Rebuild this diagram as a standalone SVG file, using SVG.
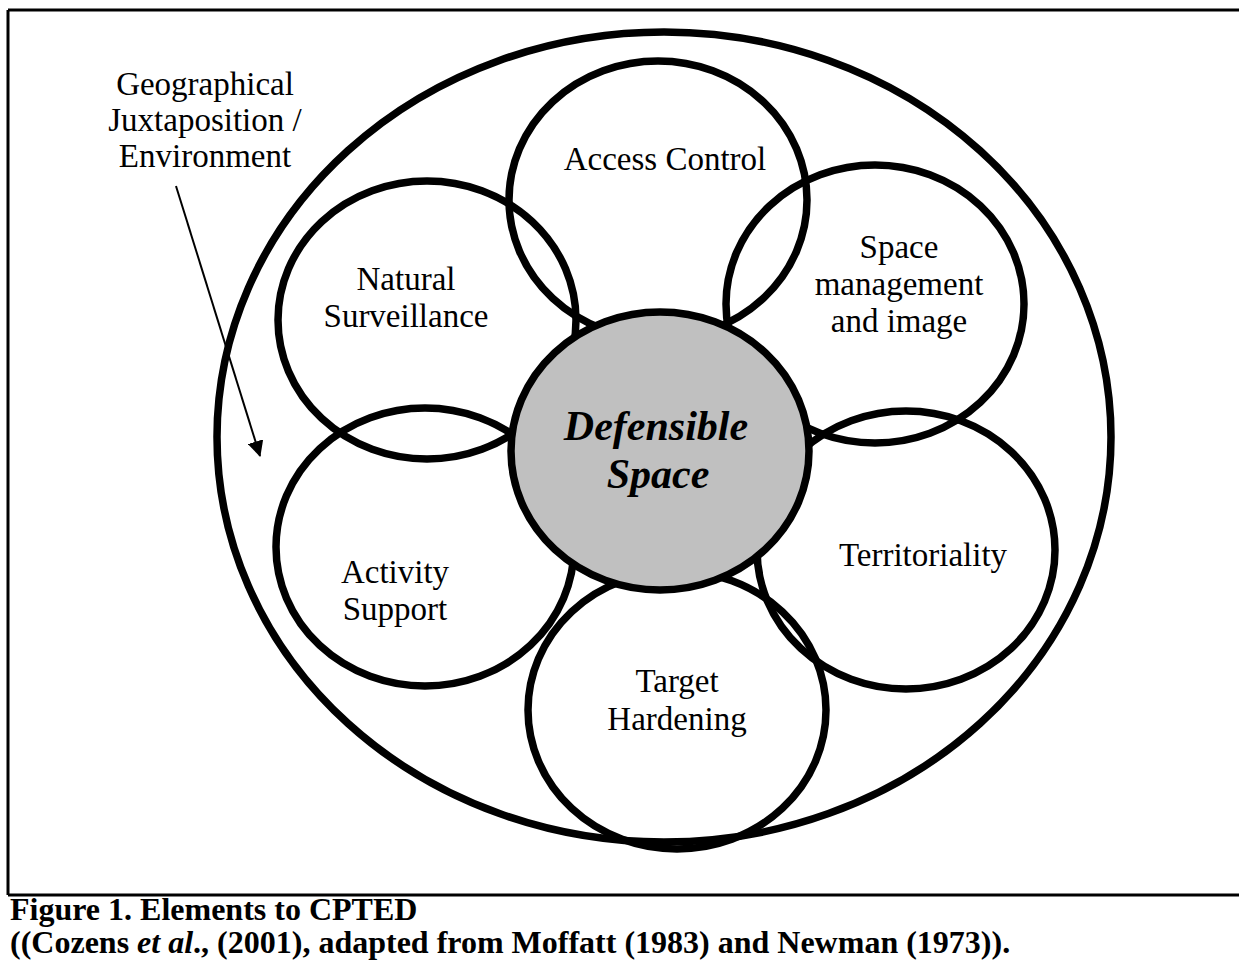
<svg xmlns="http://www.w3.org/2000/svg" width="1239" height="965" viewBox="0 0 1239 965">
<style>
.frame{stroke:#000;stroke-width:3;fill:none}
.ring{stroke:#000;stroke-width:7.5;fill:none}
.lbl{font-family:"Liberation Serif","Times New Roman",serif;font-size:33px;fill:#000;text-anchor:middle}
.core{font-family:"Liberation Serif","Times New Roman",serif;font-size:42px;font-weight:bold;font-style:italic;fill:#000;text-anchor:middle}
.cap{font-family:"Liberation Serif","Times New Roman",serif;font-size:32px;font-weight:bold;fill:#000}
</style>
<defs>
<marker id="ah" markerWidth="16" markerHeight="16" refX="15" refY="8" orient="auto" markerUnits="userSpaceOnUse">
<path d="M0,0 L16,8 L0,16 z" fill="#000"/>
</marker>
</defs>
<rect width="1239" height="965" fill="#fff"/>
<g id="frame">
<path class="frame" d="M8,10 H1239 M8,10 V895 M8,895 H1239"/>
</g>
<g id="environment">
<ellipse class="ring" cx="664" cy="437" rx="447" ry="405"/>
<text class="lbl" x="205" y="95">Geographical</text>
<text class="lbl" x="205" y="131">Juxtaposition /</text>
<text class="lbl" x="205" y="167">Environment</text>
</g>
<g id="access-control">
<ellipse class="ring" cx="658" cy="200" rx="149" ry="139"/>
<text class="lbl" x="665" y="170">Access Control</text>
</g>
<g id="natural-surveillance">
<ellipse class="ring" cx="427" cy="320" rx="149" ry="139"/>
<text class="lbl" x="406" y="290">Natural</text>
<text class="lbl" x="406" y="327">Surveillance</text>
</g>
<g id="space-management">
<ellipse class="ring" cx="875" cy="304" rx="149" ry="139"/>
<text class="lbl" x="899" y="258">Space</text>
<text class="lbl" x="899" y="295">management</text>
<text class="lbl" x="899" y="332">and image</text>
</g>
<g id="activity-support">
<ellipse class="ring" cx="425" cy="547" rx="149" ry="139"/>
<text class="lbl" x="395" y="583">Activity</text>
<text class="lbl" x="395" y="620">Support</text>
</g>
<g id="territoriality">
<ellipse class="ring" cx="906" cy="550" rx="149" ry="139"/>
<text class="lbl" x="923" y="566">Territoriality</text>
</g>
<g id="target-hardening">
<ellipse class="ring" cx="677" cy="710" rx="149" ry="139"/>
<text class="lbl" x="677" y="692">Target</text>
<text class="lbl" x="677" y="730">Hardening</text>
</g>
<g id="defensible-space">
<ellipse class="ring" cx="660" cy="451" rx="149" ry="139" style="fill:#c0c0c0"/>
<text class="core" x="656" y="440">Defensible</text>
<text class="core" x="658" y="488">Space</text>
</g>
<g id="connectors">
<line x1="176" y1="186" x2="260" y2="456" stroke="#000" stroke-width="2" marker-end="url(#ah)"/>
</g>
<g id="caption">
<text class="cap" x="10" y="920">Figure 1. Elements to CPTED</text>
<text class="cap" x="10" y="953">((Cozens <tspan font-style="italic">et al</tspan>., (2001), adapted from Moffatt (1983) and Newman (1973)).</text>
</g>
</svg>
